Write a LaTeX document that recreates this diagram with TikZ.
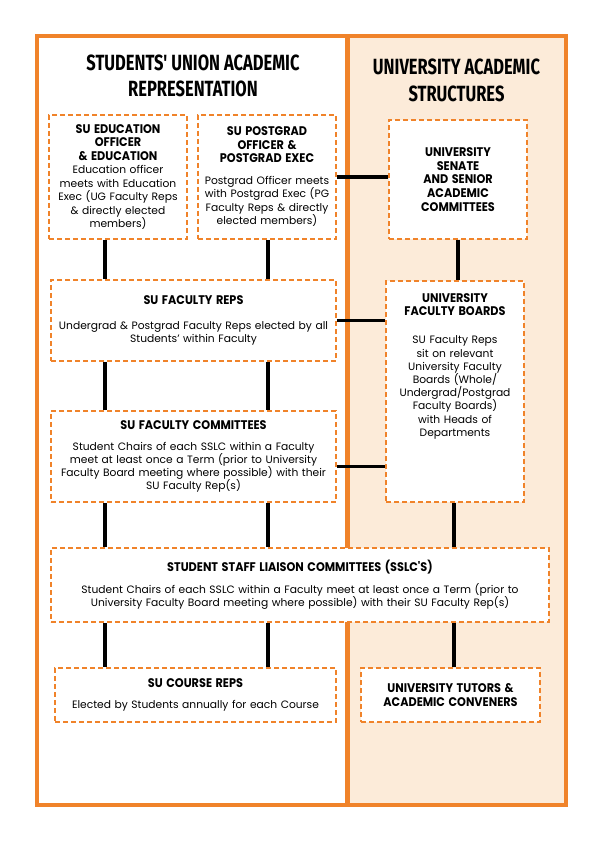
\documentclass[tikz,border=0pt]{standalone}
\usepackage{fontspec}
\setmainfont{Poppins}
\newfontfamily\headfont{Fira Sans}[FakeStretch=0.75]
\newfontfamily\titlefont{Poppins}[FakeStretch=0.9]
\definecolor{suorange}{RGB}{240,131,42}
\definecolor{unipeach}{RGB}{252,235,217}
\newcommand{\boxtitle}[1]{{\titlefont\bfseries\fontsize{12.5}{13.5}\selectfont #1}}

\begin{document}
\begin{tikzpicture}[x=1pt, y=-1pt,
    box/.style={draw=suorange, line width=1.5pt, dash pattern=on 5pt off 3pt, fill=white,
      inner sep=0pt, align=center, font=\fontsize{10.7}{13.2}\selectfont},
    link/.style={line width=3.2pt},
    heading/.style={align=center, inner sep=0pt, font=\headfont\bfseries\fontsize{22}{26.5}\selectfont}]
    \useasboundingbox (0,0) rectangle (596,842);
    \fill[white] (0,0) rectangle (596,842);
    % the two columns
    \fill[unipeach] (347.5,36) rectangle (566,805);
    \draw[suorange, line width=4.5pt] (37,36) rectangle (566,805);
    \draw[suorange, line width=4.5pt] (347.5,36) -- (347.5,805);
    \node[heading] (suhead) at (193,76) {STUDENTS' UNION ACADEMIC\\REPRESENTATION};
    \node[heading] (unihead) at (456.5,80.5) {UNIVERSITY ACADEMIC\\STRUCTURES};
    % students' union side
    \node[box, minimum width=138pt, minimum height=124pt, text width=134pt,
        font=\fontsize{10.7}{13.5}\selectfont] (eduoff) at (118,177)
        {\boxtitle{SU EDUCATION\\OFFICER\\\& EDUCATION}\\Education officer\\meets with Education\\Exec (UG Faculty Reps\\\& directly elected\\members)};
    \node[box, minimum width=138pt, minimum height=124pt, text width=134pt,
        font=\fontsize{10.7}{13.5}\selectfont] (pgoff) at (267,177)
        {\boxtitle{SU POSTGRAD\\OFFICER \&\\POSTGRAD EXEC}\\[8pt]Postgrad Officer meets\\with Postgrad Exec (PG\\Faculty Reps \& directly\\elected members)};
    \node[box, minimum width=285pt, minimum height=81pt, text width=281pt] (facreps) at (193.5,320.5)
        {\boxtitle{SU FACULTY REPS}\\[12pt]Undergrad \& Postgrad Faculty Reps elected by all\\Students' within Faculty};
    \node[box, minimum width=285pt, minimum height=91pt, text width=281pt] (faccom) at (193.5,456.5)
        {\boxtitle{SU FACULTY COMMITTEES}\\[8pt]Student Chairs of each SSLC within a Faculty\\meet at least once a Term (prior to University\\Faculty Board meeting where possible) with their\\SU Faculty Rep(s)};
    \node[box, minimum width=498pt, minimum height=74pt, text width=494pt] (sslc) at (300,585)
        {\boxtitle{STUDENT STAFF LIAISON COMMITTEES (SSLC'S)}\\[9pt]Student Chairs of each SSLC within a Faculty meet at least once a Term (prior to\\University Faculty Board meeting where possible) with their SU Faculty Rep(s)};
    \node[box, minimum width=281pt, minimum height=54pt, text width=277pt] (coursereps) at (195.5,695)
        {\boxtitle{SU COURSE REPS}\\[7pt]Elected by Students annually for each Course};
    % university side
    \node[box, minimum width=138pt, minimum height=119pt, text width=134pt,
        font=\fontsize{10.7}{14.3}\selectfont] (senate) at (458,179.5)
        {\boxtitle{UNIVERSITY\\SENATE\\AND SENIOR\\ACADEMIC\\COMMITTEES}};
    \node[box, minimum width=138pt, minimum height=221pt, text width=134pt] (facboards) at (455,391.5)
        {\boxtitle{UNIVERSITY\\FACULTY BOARDS}\\[15pt]SU Faculty Reps\\sit on relevant\\University Faculty\\Boards (Whole/\\Undergrad/Postgrad\\Faculty Boards)\\with Heads of\\Departments\\[40pt]\mbox{}};
    \node[box, minimum width=179pt, minimum height=54pt, text width=175pt] (tutors) at (450.5,695)
        {\boxtitle{UNIVERSITY TUTORS \&\\ACADEMIC CONVENERS}};
    % connectors
    \coordinate (colL) at (105,0);
    \coordinate (colR) at (268,0);
    \coordinate (colU) at (454,0);
    \draw[link] (eduoff.south -| colL) -- (facreps.north -| colL);
    \draw[link] (pgoff.south -| colR) -- (facreps.north -| colR);
    \draw[link] (facreps.south -| colL) -- (faccom.north -| colL);
    \draw[link] (facreps.south -| colR) -- (faccom.north -| colR);
    \draw[link] (faccom.south -| colL) -- (sslc.north -| colL);
    \draw[link] (faccom.south -| colR) -- (sslc.north -| colR);
    \draw[link] (sslc.south -| colL) -- (coursereps.north -| colL);
    \draw[link] (sslc.south -| colR) -- (coursereps.north -| colR);
    \draw[link] (senate.south) -- (facboards.north -| senate.south);
    \draw[link] (facboards.south -| colU) -- (sslc.north -| colU);
    \draw[link] (sslc.south -| colU) -- (tutors.north -| colU);
    \draw[link] (pgoff.east) -- (pgoff.east -| senate.west);
    \draw[link] (facreps.east) -- (facreps.east -| facboards.west);
    \draw[link] ([yshift=-10pt]faccom.east) -- ([yshift=-10pt]faccom.east -| facboards.west);
\end{tikzpicture}
\end{document}
